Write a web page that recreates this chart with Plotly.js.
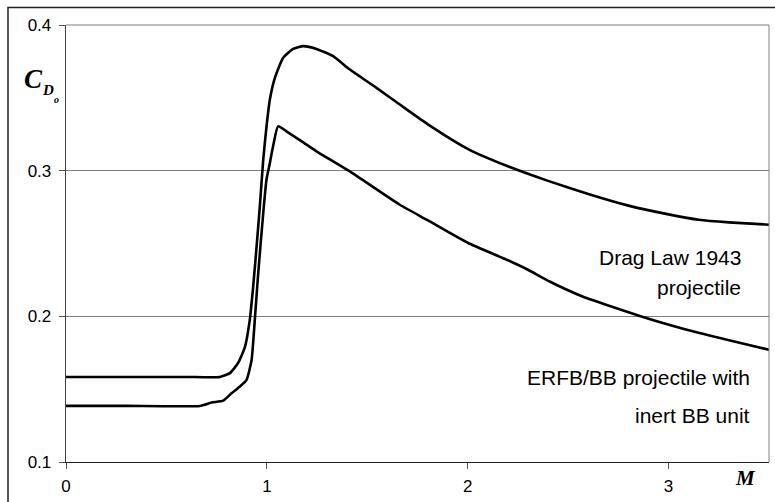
<!DOCTYPE html>
<html>
<head>
<meta charset="utf-8">
<script src="https://cdn.plot.ly/plotly-3.0.1.min.js"></script>
<style>html,body{margin:0;padding:0;background:#fff;}#chart{width:775px;height:502px;}</style>
</head>
<body>
<div id="chart"></div>
<script>
// Drag Law 1943 projectile
var machUpper = [0, 0.3, 0.6, 0.766, 0.816, 0.857, 0.891, 0.915, 0.932, 0.949, 0.965, 0.982, 0.998, 1.015, 1.040, 1.081, 1.131, 1.181, 1.247, 1.330, 1.413, 1.546, 1.662, 1.8, 2.0, 2.2, 2.4, 2.6, 2.8, 3.0, 3.15, 3.3, 3.5];
var cdUpper   = [0.1584, 0.1584, 0.1584, 0.1584, 0.161, 0.168, 0.179, 0.1976, 0.2205, 0.248, 0.2755, 0.3076, 0.330, 0.3488, 0.3637, 0.3775, 0.3836, 0.3855, 0.3836, 0.3786, 0.3694, 0.3568, 0.3454, 0.332, 0.315, 0.303, 0.293, 0.284, 0.276, 0.270, 0.2663, 0.2645, 0.2629];
// ERFB/BB projectile with inert BB unit
var machLower = [0, 0.3, 0.667, 0.725, 0.783, 0.824, 0.866, 0.899, 0.924, 0.940, 0.957, 0.982, 0.998, 1.015, 1.031, 1.056, 1.098, 1.247, 1.413, 1.662, 1.8, 2.0, 2.2, 2.3, 2.408, 2.572, 2.856, 3.154, 3.5];
var cdLower   = [0.1385, 0.1385, 0.1385, 0.1408, 0.1421, 0.1472, 0.1518, 0.1564, 0.170, 0.1976, 0.2297, 0.2709, 0.2938, 0.3053, 0.3167, 0.3304, 0.327, 0.3133, 0.2995, 0.2766, 0.266, 0.2505, 0.2385, 0.232, 0.2239, 0.2136, 0.2003, 0.1885, 0.177];

var xTickVals = [0, 1, 2, 3];
var yTickVals = [0.1, 0.2, 0.3, 0.4];
var yTickText = ['0.1', '0.2', '0.3', '0.4'];

var lineStyle = {color: '#000000', width: 2.6, shape: 'spline', smoothing: 0.5};
var traces = [
  {x: machUpper, y: cdUpper, mode: 'lines', line: lineStyle, hoverinfo: 'skip', showlegend: false},
  {x: machLower, y: cdLower, mode: 'lines', line: lineStyle, hoverinfo: 'skip', showlegend: false}
];

var annFont = {family: 'Liberation Sans, Arial, sans-serif', size: 21, color: '#000'};
var serif = 'Liberation Serif, Times New Roman, serif';

var layout = {
  width: 775, height: 502,
  margin: {l: 66, r: 6, t: 25, b: 40},
  paper_bgcolor: '#ffffff', plot_bgcolor: '#ffffff',
  showlegend: false,
  font: {family: 'Liberation Sans, Arial, sans-serif', size: 17, color: '#000'},
  xaxis: {
    range: [0, 3.5], tickvals: xTickVals, ticktext: xTickVals.map(String),
    ticks: 'outside', ticklen: 6, tickcolor: '#555', tickwidth: 1,
    showline: true, linecolor: '#222', linewidth: 1.3,
    showgrid: false, zeroline: false, ticklabelstandoff: 2,
    tickfont: {family: 'Liberation Sans, Arial, sans-serif', size: 17, color: '#000'}
  },
  yaxis: {
    range: [0.1, 0.4], tickvals: yTickVals, ticktext: yTickText,
    ticks: 'outside', ticklen: 6, tickcolor: '#555', tickwidth: 1,
    showline: true, linecolor: '#444', linewidth: 1.3,
    showgrid: true, gridcolor: '#808080', gridwidth: 1, zeroline: false,
    ticklabelstandoff: 4,
    tickfont: {family: 'Liberation Sans, Arial, sans-serif', size: 17, color: '#000'}
  },
  shapes: [
    {type: 'rect', xref: 'paper', yref: 'paper', x0: -0.0825, x1: 1.05, y0: -0.2, y1: 1.040,
     line: {color: '#222', width: 1.5}, fillcolor: 'rgba(0,0,0,0)', layer: 'below'},
    {type: 'line', xref: 'paper', yref: 'paper', x0: 1, x1: 1, y0: 0, y1: 1, line: {color: '#808080', width: 1}},
    {type: 'line', xref: 'paper', yref: 'paper', x0: 0, x1: 1, y0: 1, y1: 1, line: {color: '#808080', width: 1}}
  ],
  annotations: [
    {x: 3.372, y: 0.2402, xref: 'x', yref: 'y', text: 'Drag Law 1943', showarrow: false, xanchor: 'right', yanchor: 'middle', font: annFont},
    {x: 3.372, y: 0.2196, xref: 'x', yref: 'y', text: 'projectile', showarrow: false, xanchor: 'right', yanchor: 'middle', font: annFont},
    {x: 3.417, y: 0.1577, xref: 'x', yref: 'y', text: 'ERFB/BB projectile with', showarrow: false, xanchor: 'right', yanchor: 'middle', font: annFont},
    {x: 3.417, y: 0.1316, xref: 'x', yref: 'y', text: 'inert BB unit', showarrow: false, xanchor: 'right', yanchor: 'middle', font: annFont},
    {x: (745 - 66) / 703, y: (462 - 478) / 436.5, xref: 'paper', yref: 'paper', text: '<b><i>M</i></b>', showarrow: false, xanchor: 'center', yanchor: 'middle',
     font: {family: serif, size: 21, color: '#000'}},
    {x: (33 - 66) / 703, y: (462 - 79) / 436.5, xref: 'paper', yref: 'paper', text: '<b><i>C</i></b>', showarrow: false, xanchor: 'center', yanchor: 'middle',
     font: {family: serif, size: 27, color: '#000'}},
    {x: (48 - 66) / 703, y: (462 - 90) / 436.5, xref: 'paper', yref: 'paper', text: '<b><i>D</i></b>', showarrow: false, xanchor: 'center', yanchor: 'middle',
     font: {family: serif, size: 15, color: '#000'}},
    {x: (56.5 - 66) / 703, y: (462 - 100) / 436.5, xref: 'paper', yref: 'paper', text: '<b><i>o</i></b>', showarrow: false, xanchor: 'center', yanchor: 'middle',
     font: {family: serif, size: 10, color: '#000'}}
  ]
};

Plotly.newPlot('chart', traces, layout, {staticPlot: true, displayModeBar: false});
</script>
</body>
</html>
